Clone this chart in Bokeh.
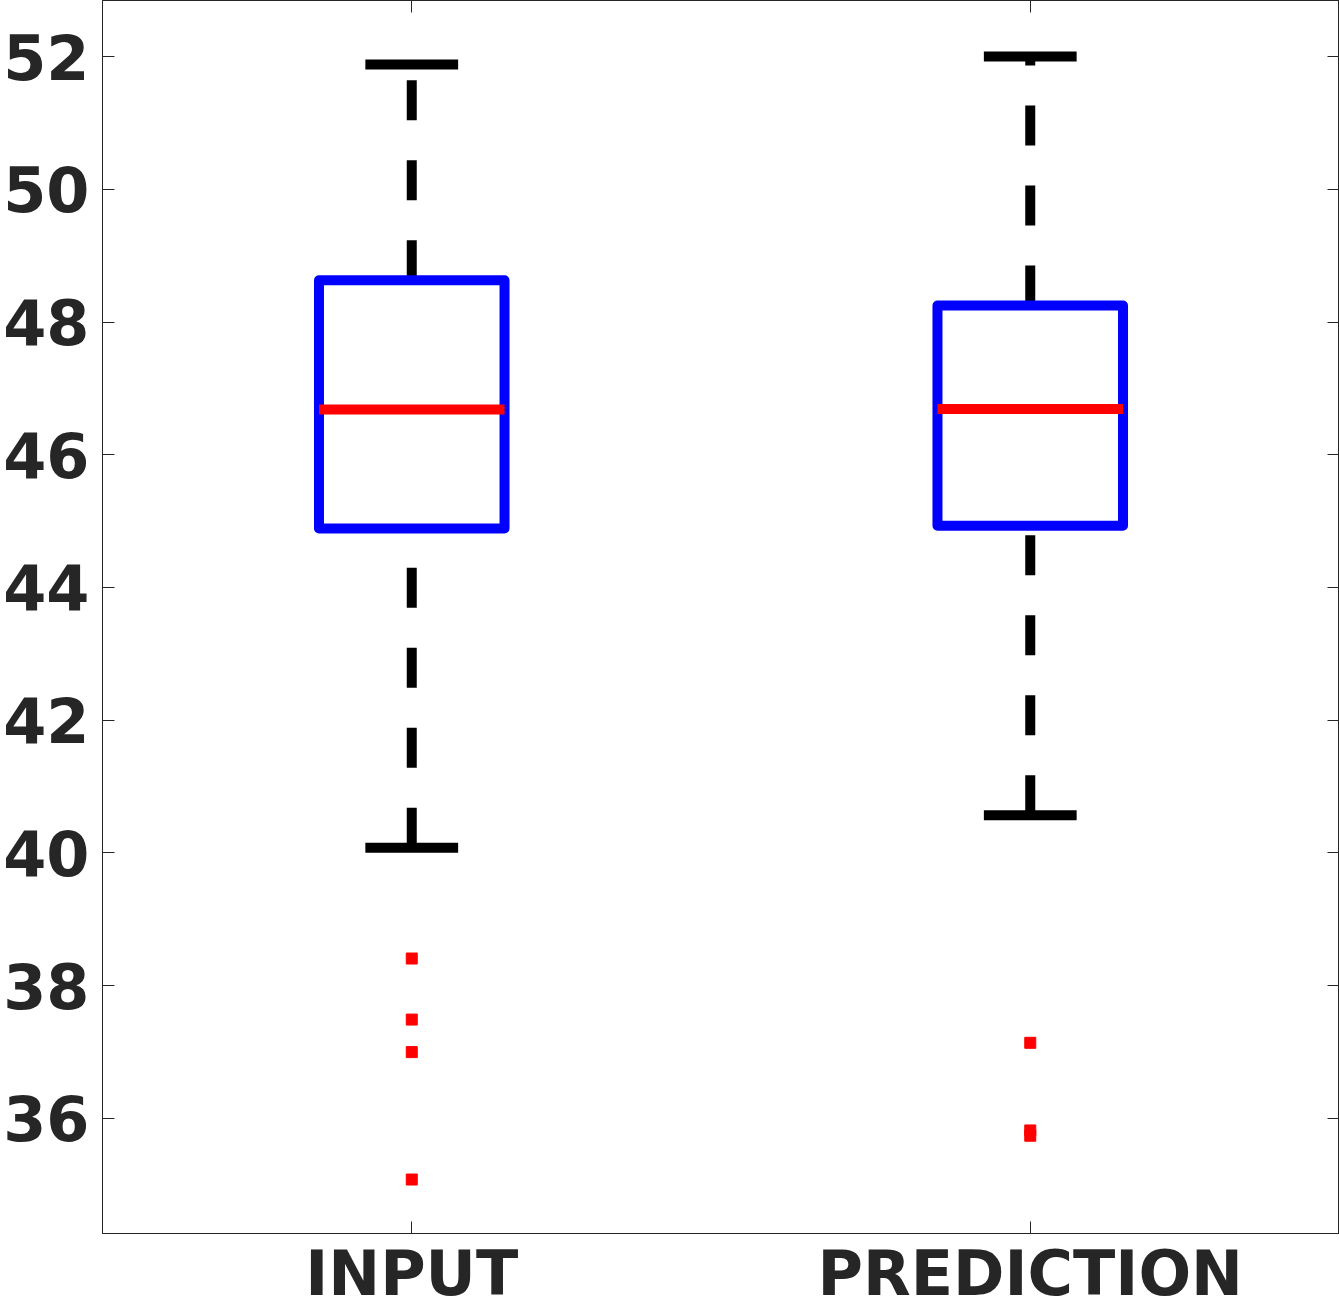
from bokeh.plotting import figure
from bokeh.models import Range1d, LinearAxis, FixedTicker
from bokeh.embed import file_html
from bokeh.resources import INLINE

# ---- data ----
categories = ["INPUT", "PREDICTION"]
positions = [1, 2]
q1 = [44.89, 44.93]
median = [46.68, 46.69]
q3 = [48.63, 48.25]
whisker_low = [40.08, 40.57]
whisker_high = [51.88, 52.00]
outlier_pos = [1, 1, 1, 1, 2, 2, 2]
outlier_values = [38.41, 37.49, 37.00, 35.08, 37.14, 35.82, 35.74]
y_ticks = [36, 38, 40, 42, 44, 46, 48, 50, 52]

# ---- styles ----
BOX_HALF = 0.15
CAP_HALF = 0.075
AXIS_COLOR = "#262626"
FONT = "DejaVu Sans"

p = figure(width=1339, height=1312, output_backend="svg", toolbar_location=None,
           x_range=Range1d(0.5, 2.5), y_range=Range1d(34.267, 52.844),
           min_border_left=102, min_border_right=0, min_border_top=0, min_border_bottom=79)
p.grid.visible = False
p.outline_line_color = AXIS_COLOR
p.outline_line_width = 1
p.background_fill_color = "white"
p.border_fill_color = "white"

# bottom axis
p.xaxis.ticker = FixedTicker(ticks=positions)
p.xaxis.major_label_overrides = {pos: cat for pos, cat in zip(positions, categories)}
# left axis
p.yaxis.ticker = FixedTicker(ticks=y_ticks)
for ax in (p.xaxis[0], p.yaxis[0]):
    ax.major_tick_in = 12
    ax.major_tick_out = 0
    ax.minor_tick_line_color = None
    ax.axis_line_color = AXIS_COLOR
    ax.major_tick_line_color = AXIS_COLOR
    ax.major_label_text_font = FONT
    ax.major_label_text_font_style = "bold"
    ax.major_label_text_font_size = "62px"
    ax.major_label_text_color = AXIS_COLOR
p.xaxis.major_label_standoff = 3
p.yaxis.major_label_standoff = 13

# top and right axes: ticks only, no labels
top = LinearAxis(ticker=FixedTicker(ticks=positions))
right = LinearAxis(ticker=FixedTicker(ticks=y_ticks))
for ax in (top, right):
    ax.major_tick_in = 12
    ax.major_tick_out = 0
    ax.minor_tick_line_color = None
    ax.axis_line_color = AXIS_COLOR
    ax.major_tick_line_color = AXIS_COLOR
    ax.major_label_text_color = None
    ax.major_label_standoff = 0
p.add_layout(top, "above")
p.add_layout(right, "right")

# whiskers (dashed), drawn from the lower value upward
p.segment(x0=positions, y0=q3, x1=positions, y1=whisker_high,
          line_color="black", line_width=10, line_dash="40 40")
p.segment(x0=positions, y0=whisker_low, x1=positions, y1=q1,
          line_color="black", line_width=10, line_dash="40 40")
# whisker caps
cap_l = [x - CAP_HALF for x in positions]
cap_r = [x + CAP_HALF for x in positions]
p.segment(x0=cap_l, y0=whisker_high, x1=cap_r, y1=whisker_high, line_color="black", line_width=10)
p.segment(x0=cap_l, y0=whisker_low, x1=cap_r, y1=whisker_low, line_color="black", line_width=10)

# boxes
p.vbar(x=positions, width=2 * BOX_HALF, bottom=q1, top=q3,
       fill_color=None, line_color="#0000FF", line_width=10, line_join="round")
# medians
box_l = [x - BOX_HALF for x in positions]
box_r = [x + BOX_HALF for x in positions]
p.segment(x0=box_l, y0=median, x1=box_r, y1=median, line_color="#FF0000", line_width=10)

# outliers
p.scatter(x=outlier_pos, y=outlier_values, marker="square", size=11,
          fill_color="#FF0000", line_color="#FF0000", line_width=1)

open("out.html", "w").write(file_html(p, INLINE))
